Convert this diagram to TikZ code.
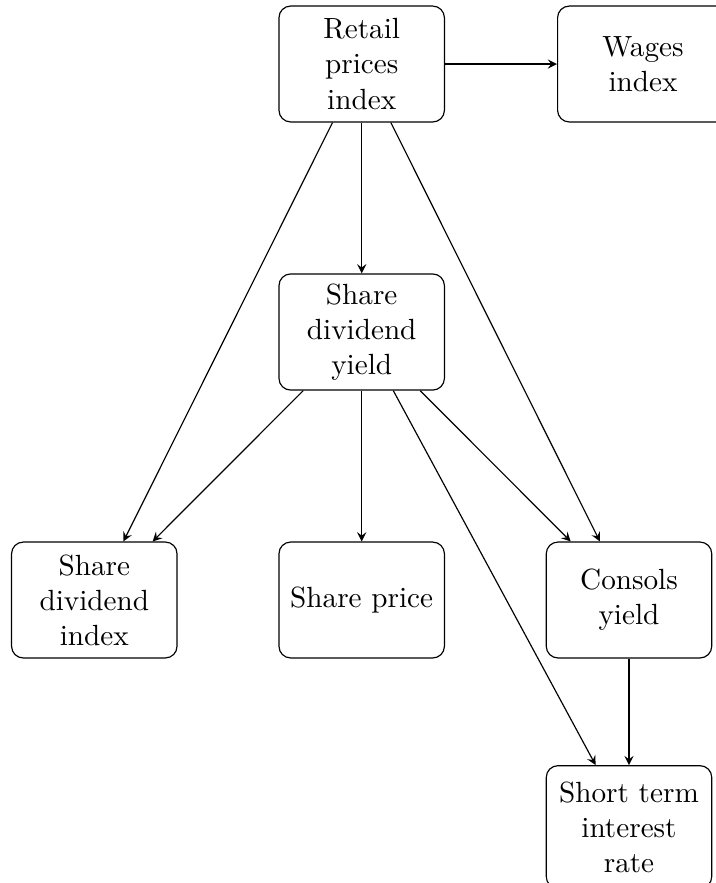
\documentclass[tikz,border=0pt]{standalone}
\usetikzlibrary{arrows.meta}
\begin{document}
\begin{tikzpicture}[x=0.3425pt,y=-0.3425pt,
  box/.style={draw,rounded corners=4pt,align=center,text width=50pt,minimum width=56.5pt,minimum height=39.7pt,inner sep=3.333pt},
  conn/.style={-stealth}]
\useasboundingbox (0,0) rectangle (716,883);
\node[box,minimum width=58.5pt] (wages) at (643,64) {Wages\\index};
\node[box] (retail) at (361.7,64) {Retail\\prices\\index};
\node[box] (sdy) at (361.7,332) {Share\\dividend\\yield};
\node[box] (sdi) at (94.3,600) {Share\\dividend\\index};
\node[box] (sp) at (361.7,600) {Share price};
\node[box] (cy) at (629,600) {Consols\\yield};
\node[box,minimum height=42pt] (str) at (629,827) {Short term\\interest\\rate};
\draw[conn] (retail) -- (wages);
\draw[conn] (retail) -- (sdy);
\draw[conn] (retail) -- (sdi);
\draw[conn] (retail) -- (cy);
\draw[conn] (sdy) -- (sdi);
\draw[conn] (sdy) -- (sp);
\draw[conn] (sdy) -- (cy);
\draw[conn] (sdy) -- (str);
\draw[conn] (cy) -- (str);
\end{tikzpicture}
\end{document}
